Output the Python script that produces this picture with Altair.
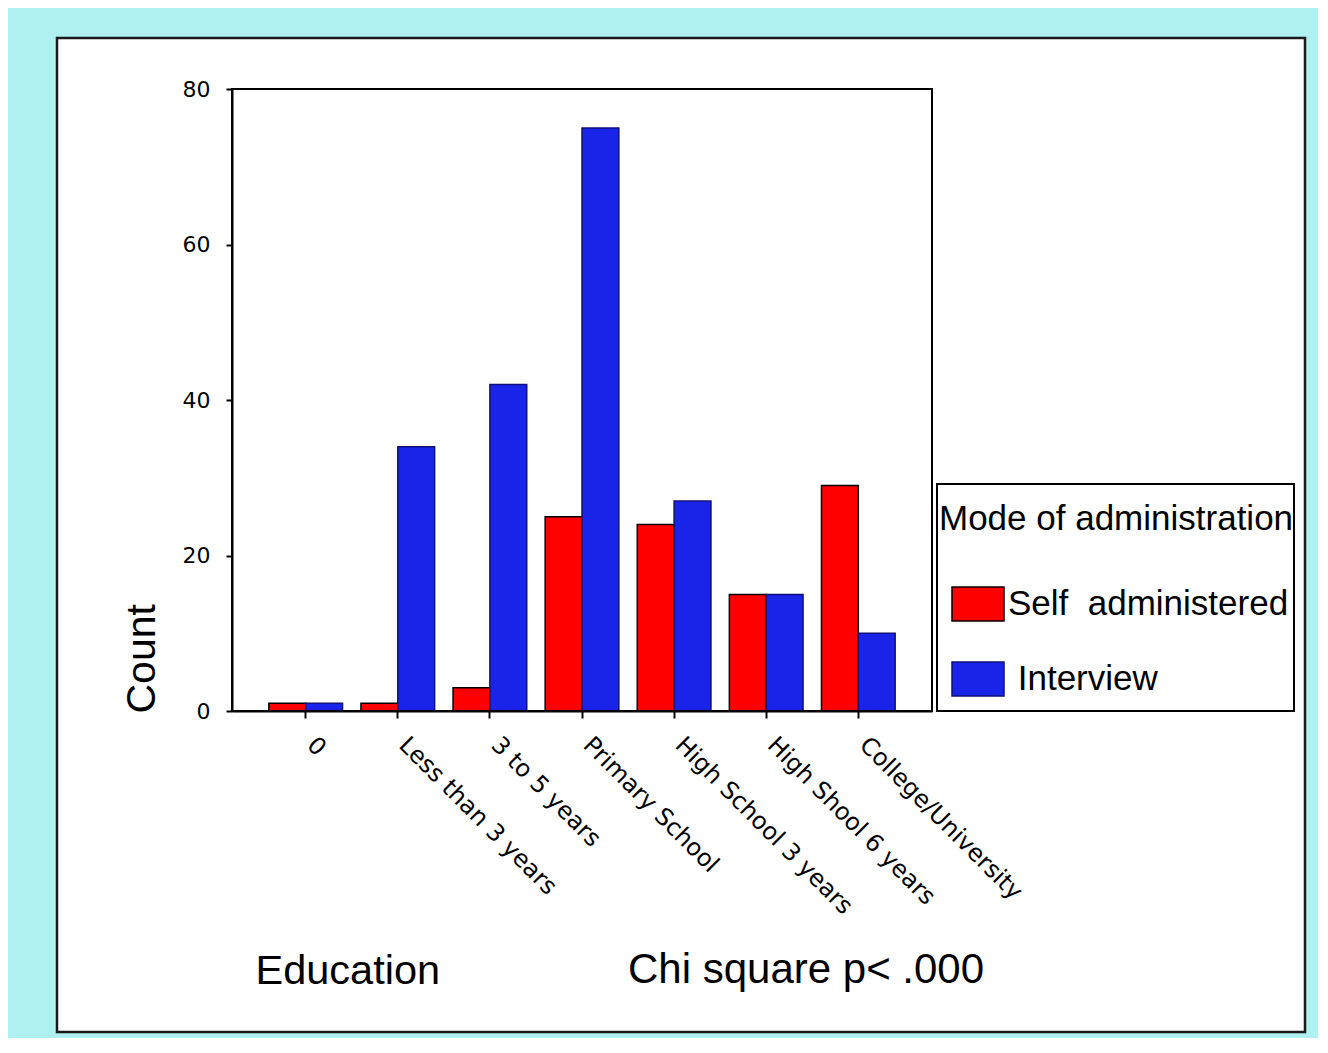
import altair as alt
import pandas as pd

categories = ["0", "Less than 3 years", "3 to 5 years", "Primary School",
              "High School 3 years", "High Shool 6 years", "College/University"]
self_admin = [1, 1, 3, 25, 24, 15, 29]
interview = [1, 34, 42, 75, 27, 15, 10]
modes = ["Self administered", "Interview"]
mode_colors = ["#FF0000", "#1A24E8"]
mode_strokes = ["#000000", "#10107A"]
y_ticks = [0, 20, 40, 60, 80]
x_title = "Education"
y_title = "Count"
legend_title = "Mode of administration"
annotation = ["Chi square p< .000"]

rows = []
for c, s, i in zip(categories, self_admin, interview):
    rows.append({"education": c, "mode": modes[0], "count": s})
    rows.append({"education": c, "mode": modes[1], "count": i})
df = pd.DataFrame(rows)

W, H = 700, 622
dummy = pd.DataFrame({"k": [0]})

panel = alt.Chart(dummy).mark_rect(fill="white", stroke="#1a1a1a", strokeWidth=2.5).encode(
    x=alt.value(-175), x2=alt.value(1073), y=alt.value(-51), y2=alt.value(943)
)

legend_frame = alt.Chart(dummy).mark_rect(fill="white", stroke="black", strokeWidth=2).encode(
    x=alt.value(705), x2=alt.value(1062), y=alt.value(395), y2=alt.value(622)
)

bars = alt.Chart(df).mark_bar(strokeWidth=1.5).encode(
    x=alt.X("education:N", sort=categories,
            scale=alt.Scale(paddingInner=0.2, paddingOuter=0.4),
            axis=alt.Axis(title=x_title, labelAngle=45, labelAlign="left",
                          labelBaseline="alphabetic", labelPadding=28,
                          labelFont="DejaVu Sans", labelFontSize=24,
                          labelOverlap=False, labelLimit=400,
                          tickSize=7, tickWidth=2, domainWidth=2,
                          titleFont="Liberation Sans", titleFontSize=41.5,
                          titleFontWeight="normal", titleAlign="left",
                          titleBaseline="alphabetic", titleX=23, titleY=272,
                          titleAnchor="start", zindex=1)),
    xOffset=alt.XOffset("mode:N", sort=modes,
                        scale=alt.Scale(domain=modes, paddingInner=0, paddingOuter=0)),
    y=alt.Y("count:Q", scale=alt.Scale(domain=[0, 80], nice=False),
            axis=alt.Axis(title=y_title, values=y_ticks, grid=False,
                          labelFont="DejaVu Sans", labelFontSize=22,
                          labelPadding=16, tickSize=6, tickWidth=2, domainWidth=2,
                          titleFont="Liberation Sans", titleFontSize=41,
                          titleFontWeight="normal", titleAngle=270,
                          titleAlign="left", titleBaseline="middle",
                          titleX=-90, titleY=624, zindex=1)),
    color=alt.Color("mode:N", sort=modes,
                    scale=alt.Scale(domain=modes, range=mode_colors),
                    legend=alt.Legend(
                        title=legend_title, orient="none", legendX=707, legendY=413,
                        titleFont="Liberation Sans", titleFontSize=35,
                        titleFontWeight="normal", titleColor="black",
                        titleBaseline="top", titlePadding=40, titleLimit=500,
                        labelFont="Liberation Sans", labelFontSize=35,
                        labelColor="black", labelLimit=500, labelOffset=3,
                        labelExpr="datum.label == 'Interview' ? '\u200b\u00a0Interview' : 'Self\u00a0\u00a0administered'",
                        symbolType="M-1,-0.65L1,-0.65L1,0.65L-1,0.65Z",
                        symbolSize=2704, symbolOffset=12,
                        symbolStrokeColor="black", symbolStrokeWidth=1.5,
                        symbolOpacity=1, rowPadding=28, padding=0)),
    stroke=alt.Stroke("mode:N", sort=modes,
                      scale=alt.Scale(domain=modes, range=mode_strokes), legend=None),
)

frame = alt.Chart(dummy).mark_rect(fill=None, filled=False, stroke="black", strokeWidth=2).encode(
    x=alt.value(0), x2=alt.value(W), y=alt.value(0), y2=alt.value(H)
)

note = alt.Chart(pd.DataFrame({"t": annotation})).mark_text(
    font="Liberation Sans", fontSize=42, align="left", baseline="alphabetic", color="black"
).encode(text="t:N", x=alt.value(396), y=alt.value(894))

chart = alt.layer(panel, legend_frame, bars, frame, note).properties(
    width=W, height=H,
    autosize=alt.AutoSizeParams(type="none"),
    padding={"left": 224, "top": 81, "right": 386, "bottom": 327},
).configure(background="#AEF1F0").configure_view(stroke=None).configure_axis(
    domainColor="black", tickColor="black", labelColor="black", titleColor="black"
)

chart.save("out.html", embed_options={"renderer": "svg", "actions": False})
